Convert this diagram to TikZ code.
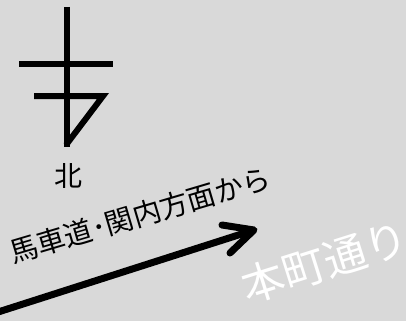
\documentclass[tikz,border=0pt]{standalone}
\usepackage{fontspec}
\setmainfont{Noto Sans CJK JP}
\begin{document}
\begin{tikzpicture}[x=1pt,y=-1pt,
  symline/.style={line width=6pt},
  arrowline/.style={line width=7pt,line cap=round,line join=round},
  lbl/.style={inner sep=0pt,anchor=center}]
\useasboundingbox (0,0) rectangle (406,321);
\fill[fill={rgb,255:red,217;green,217;blue,217}] (0,0) rectangle (406,321);
% north symbol
\draw[symline] (67,7) -- (67,147);
\draw[symline] (19,64) -- (113,64);
\draw[symline,miter limit=10] (34,96) -- (103,96) -- (66,145);
\node[lbl,font=\fontsize{28}{32}\selectfont] (north) at (68,176) {北};
% arrow
\coordinate (tail) at (-5,313);
\coordinate (tip) at (254,230);
\coordinate (armA) at (222,225);
\coordinate (armB) at (230,253);
\draw[arrowline,line cap=butt] (tail) -- (tip);
\draw[arrowline] (armA) -- (tip) -- (armB);
% labels
\node[lbl,rotate=16.5,font=\fontsize{28.5}{32}\selectfont] (from) at (140,215) {馬車道･関内方面から};
\node[lbl,rotate=17.5,white,font=\fontsize{43}{48}\selectfont] (street) at (325,262) {本町通り};
\end{tikzpicture}
\end{document}
